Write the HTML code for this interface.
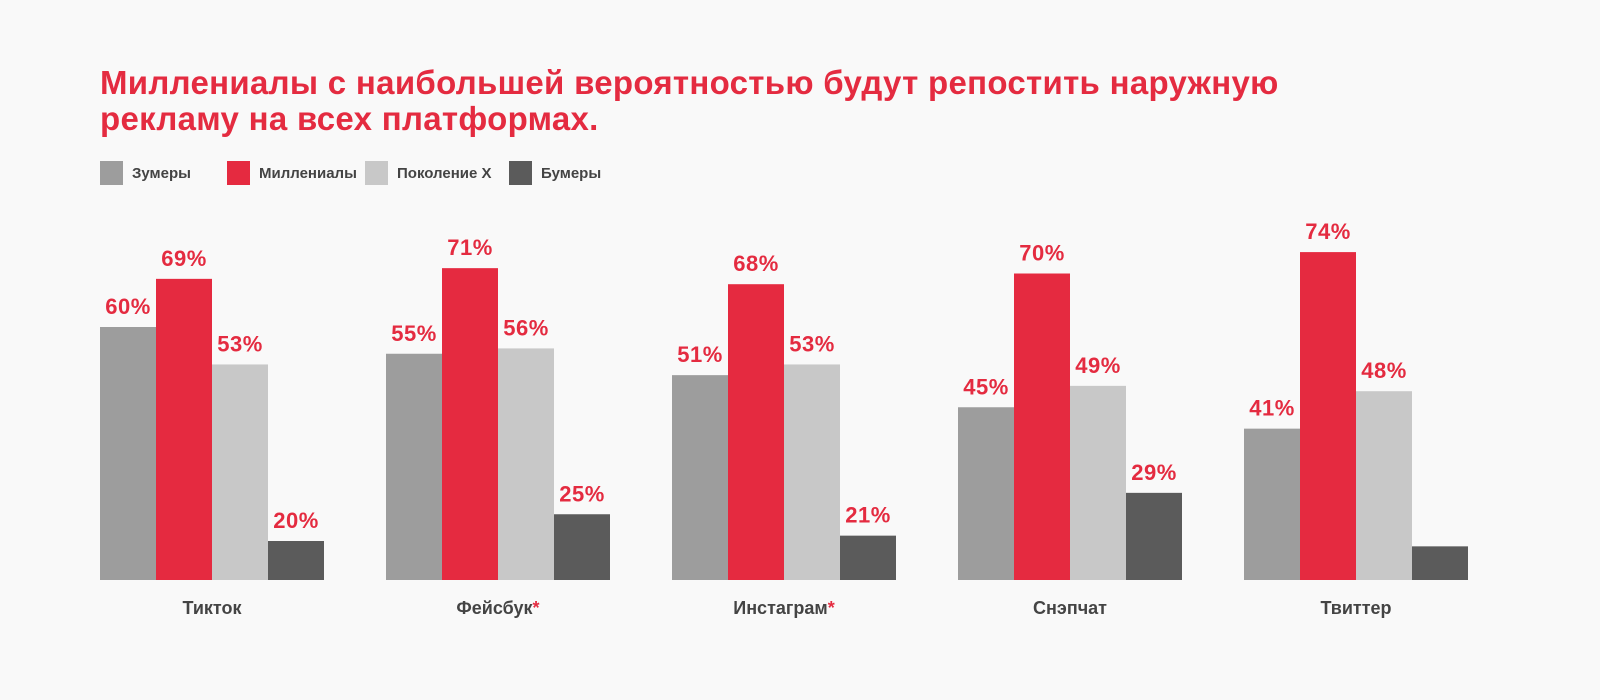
<!DOCTYPE html>
<html><head><meta charset="utf-8">
<style>
body{margin:0;background:#f9f9f9;}
svg{display:block;font-family:"Liberation Sans","DejaVu Sans",sans-serif;}
</style></head>
<body>
<svg id="chart" width="1600" height="700" viewBox="0 0 1600 700">
<rect width="1600" height="700" fill="#f9f9f9"/>
<text x="100" y="94" font-size="33" font-weight="bold" fill="#e42b40" letter-spacing="0.3">Миллениалы с наибольшей вероятностью будут репостить наружную</text>
<text x="100" y="130" font-size="33" font-weight="bold" fill="#e42b40" letter-spacing="0.3">рекламу на всех платформах.</text>
<g id="legend"></g>
<g id="bars"></g>
</svg>
<script>
const categories = ["Тикток","Фейсбук","Инстаграм","Снэпчат","Твиттер"];
const starred = [false,true,true,false,false];
const seriesNames = ["Зумеры","Миллениалы","Поколение X","Бумеры"];
const zoomers = [60,55,51,45,41];
const millennials = [69,71,68,70,74];
const genX = [53,56,53,49,48];
const boomers = [20,25,21,29,19];
const boomerLabelShown = [true,true,true,true,false];

const series = [zoomers, millennials, genX, boomers];
const colors = ["#9d9d9d","#e52a40","#c8c8c8","#5b5b5b"];
const NS = "http://www.w3.org/2000/svg";
const baseline = 580;
function yScale(v){ return 648 - 5.35*v; }
function xGroup(i){ return 100 + i*286; }
const barW = 56;

const legend = document.getElementById('legend');
const legX = [100,227,365,509];
seriesNames.forEach((n,k)=>{
  const r = document.createElementNS(NS,'rect');
  r.setAttribute('x',legX[k]); r.setAttribute('y',161); r.setAttribute('width',23); r.setAttribute('height',24);
  r.setAttribute('fill',colors[k]);
  
  
  legend.appendChild(r);
  const t = document.createElementNS(NS,'text');
  t.setAttribute('x',legX[k]+32); t.setAttribute('y',178);
  t.setAttribute('font-size','15'); t.setAttribute('fill','#444');
  t.setAttribute('font-weight','bold');
  t.textContent = n;
  
  
  legend.appendChild(t);
});

const g = document.getElementById('bars');
categories.forEach((c,i)=>{
  series.forEach((s,k)=>{
    const v = s[i];
    const x = xGroup(i) + k*barW;
    const top = yScale(v);
    const r = document.createElementNS(NS,'rect');
    r.setAttribute('x',x); r.setAttribute('y',top);
    r.setAttribute('width',barW); r.setAttribute('height',baseline-top);
    r.setAttribute('fill',colors[k]);
    
    
    g.appendChild(r);
    if(!(k===3 && !boomerLabelShown[i])){
      const t = document.createElementNS(NS,'text');
      t.setAttribute('x',x+barW/2); t.setAttribute('y',top-13);
      t.setAttribute('text-anchor','middle');
      t.setAttribute('font-size','22'); t.setAttribute('font-weight','bold');
      t.setAttribute('fill','#e42b40');
      t.setAttribute('letter-spacing','0.5');
      t.textContent = v + '%';
      
      
      g.appendChild(t);
    }
  });
  const t = document.createElementNS(NS,'text');
  t.setAttribute('x',xGroup(i)+2*barW); t.setAttribute('y',614);
  t.setAttribute('text-anchor','middle');
  t.setAttribute('font-size','18'); t.setAttribute('font-weight','bold');
  t.setAttribute('fill','#444');
  t.textContent = c;
  if(starred[i]){
    const sp = document.createElementNS(NS,'tspan');
    sp.setAttribute('fill','#e42b40');
    sp.textContent='*';
    t.appendChild(sp);
  }
  
  
  g.appendChild(t);
});
</script>
</body></html>
